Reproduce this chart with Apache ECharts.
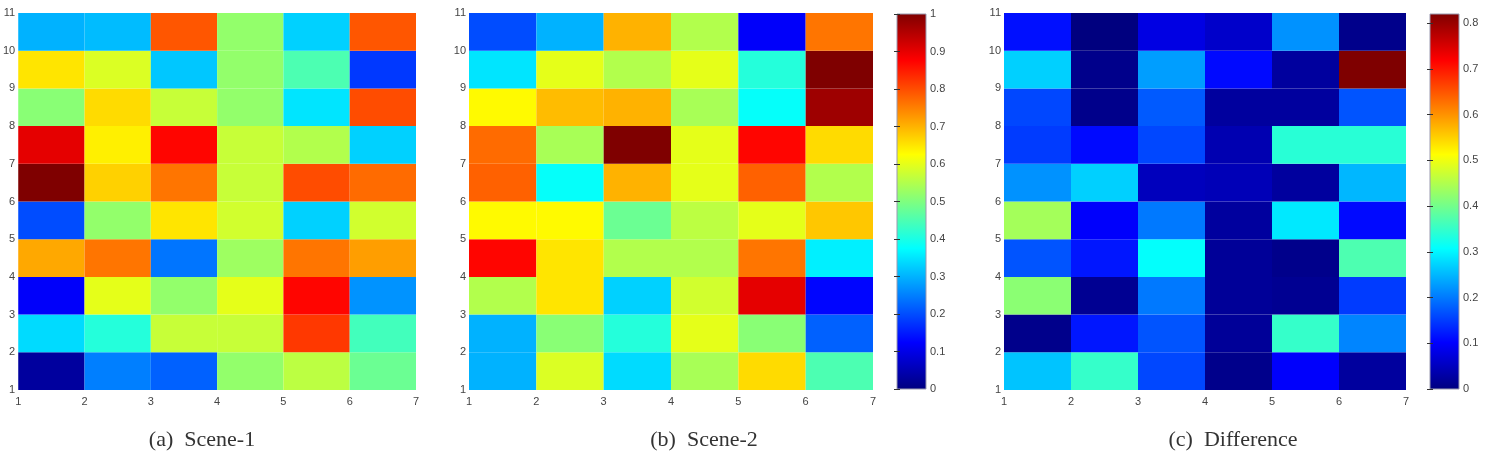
<!DOCTYPE html>
<html>
<head>
<meta charset="utf-8">
<script src="https://cdn.jsdelivr.net/npm/echarts@6/dist/echarts.min.js"></script>
<style>
  html, body { margin: 0; padding: 0; background: #fff; }
  #main { width: 1489px; height: 453px; }
</style>
</head>
<body>
<div id="main"></div>
<script>
// cell values, rows listed bottom (y = 1..2) to top (y = 10..11), six columns each
const sceneA = [
  [0.03, 0.25, 0.22, 0.52, 0.56, 0.48],
  [0.34, 0.41, 0.57, 0.57, 0.82, 0.44],
  [0.12, 0.60, 0.52, 0.60, 0.87, 0.27],
  [0.71, 0.76, 0.24, 0.53, 0.76, 0.72],
  [0.20, 0.52, 0.65, 0.58, 0.33, 0.58],
  [1.00, 0.67, 0.76, 0.57, 0.80, 0.77],
  [0.90, 0.64, 0.87, 0.57, 0.55, 0.33],
  [0.51, 0.66, 0.57, 0.52, 0.35, 0.80],
  [0.65, 0.59, 0.32, 0.52, 0.45, 0.18],
  [0.30, 0.31, 0.79, 0.52, 0.33, 0.79]
];
const sceneB = [
  [0.30, 0.59, 0.34, 0.54, 0.66, 0.45],
  [0.30, 0.51, 0.41, 0.60, 0.51, 0.22],
  [0.55, 0.65, 0.33, 0.58, 0.90, 0.13],
  [0.87, 0.65, 0.55, 0.55, 0.76, 0.36],
  [0.63, 0.63, 0.48, 0.56, 0.60, 0.68],
  [0.78, 0.38, 0.70, 0.60, 0.78, 0.55],
  [0.77, 0.54, 1.00, 0.60, 0.87, 0.66],
  [0.63, 0.69, 0.70, 0.54, 0.38, 0.97],
  [0.35, 0.60, 0.55, 0.60, 0.41, 1.00],
  [0.20, 0.30, 0.70, 0.55, 0.12, 0.76]
];
const difference = [
  [0.26, 0.35, 0.16, 0.01, 0.10, 0.025],
  [0.01, 0.12, 0.17, 0.02, 0.35, 0.21],
  [0.42, 0.015, 0.20, 0.02, 0.015, 0.15],
  [0.17, 0.12, 0.31, 0.02, 0.01, 0.37],
  [0.44, 0.10, 0.20, 0.025, 0.29, 0.11],
  [0.22, 0.27, 0.05, 0.045, 0.025, 0.25],
  [0.15, 0.11, 0.16, 0.04, 0.34, 0.34],
  [0.16, 0.01, 0.175, 0.025, 0.025, 0.17],
  [0.27, 0.01, 0.23, 0.11, 0.025, 0.82],
  [0.115, 0.0, 0.08, 0.06, 0.22, 0.01]
];
const captions = ['(a)  Scene-1', '(b)  Scene-2', '(c)  Difference'];
const colorRangeB = [0, 1];
const colorRangeC = [0, 0.82];
const ticksB = [0, 0.1, 0.2, 0.3, 0.4, 0.5, 0.6, 0.7, 0.8, 0.9, 1];
const ticksC = [0, 0.1, 0.2, 0.3, 0.4, 0.5, 0.6, 0.7, 0.8];

// matlab jet
const jet = ['#00007F', '#0000FF', '#007FFF', '#00FFFF', '#7FFF7F', '#FFFF00', '#FF7F00', '#FF0000', '#7F0000'];

const chart = echarts.init(document.getElementById('main'));

function cells(rows) {
  const out = [];
  rows.forEach((row, j) => row.forEach((v, i) => out.push([i + 1, j + 1, v])));
  return out;
}

function renderCell(params, api) {
  const x = api.value(0), y = api.value(1);
  const p0 = api.coord([x, y + 1]);
  const p1 = api.coord([x + 1, y]);
  return {
    type: 'rect',
    shape: { x: p0[0], y: p0[1], width: p1[0] - p0[0], height: p1[1] - p0[1] },
    style: { fill: api.visual('color') }
  };
}

function renderBar(params, api) {
  const p0 = api.coord([0, api.value(1)]);
  const p1 = api.coord([1, api.value(0)]);
  return {
    type: 'rect',
    shape: { x: p0[0], y: p0[1], width: p1[0] - p0[0], height: p1[1] - p0[1] },
    style: {
      fill: new echarts.graphic.LinearGradient(0, 1, 0, 0,
        jet.map((c, k) => ({ offset: k / (jet.length - 1), color: c }))),
      stroke: '#9a9ab0',
      lineWidth: 1
    }
  };
}

const labelStyle = { color: '#444', fontFamily: 'Liberation Sans, Arial', fontSize: 11 };

const heatGrids = [
  { left: 14, top: 13, width: 402, height: 377 },
  { left: 469, top: 13, width: 404, height: 377 },
  { left: 1004, top: 13, width: 402, height: 377 }
];
const barGrids = [
  { left: 897, top: 14, width: 29, height: 375 },
  { left: 1430, top: 14, width: 29, height: 375 }
];

const xAxis = [], yAxis = [];
heatGrids.forEach((g, i) => {
  xAxis.push({
    type: 'value', gridIndex: i, min: 1, max: 7, interval: 1,
    axisLine: { show: false }, axisTick: { show: false }, splitLine: { show: false },
    axisLabel: Object.assign({ margin: 6 }, labelStyle)
  });
  yAxis.push({
    type: 'value', gridIndex: i, min: 1, max: 11, interval: 1,
    axisLine: { show: false }, axisTick: { show: false }, splitLine: { show: false },
    axisLabel: Object.assign({ margin: 3 }, labelStyle)
  });
});
[[colorRangeB, ticksB], [colorRangeC, ticksC]].forEach(([range, ticks], k) => {
  const gi = 3 + k;
  xAxis.push({ type: 'value', gridIndex: gi, min: 0, max: 1, show: false });
  yAxis.push({
    type: 'value', gridIndex: gi, min: range[0], max: range[1], position: 'right', z: 5,
    axisLine: { show: false }, splitLine: { show: false },
    axisTick: { show: true, inside: true, length: 3, customValues: ticks, lineStyle: { color: '#333' } },
    axisLabel: Object.assign({ margin: 4, customValues: ticks, formatter: v => String(+v.toFixed(2)) }, labelStyle)
  });
  yAxis.push({
    type: 'value', gridIndex: gi, min: range[0], max: range[1], position: 'left', z: 5,
    axisLine: { show: false }, splitLine: { show: false }, axisLabel: { show: false },
    axisTick: { show: true, inside: true, length: 3, customValues: ticks, lineStyle: { color: '#333' } }
  });
});

const option = {
  animation: false,
  backgroundColor: '#fff',
  grid: heatGrids.concat(barGrids),
  xAxis: xAxis,
  yAxis: yAxis,
  visualMap: [
    { show: false, type: 'continuous', seriesIndex: 0, dimension: 2, min: colorRangeB[0], max: colorRangeB[1], inRange: { color: jet } },
    { show: false, type: 'continuous', seriesIndex: 1, dimension: 2, min: colorRangeB[0], max: colorRangeB[1], inRange: { color: jet } },
    { show: false, type: 'continuous', seriesIndex: 2, dimension: 2, min: colorRangeC[0], max: colorRangeC[1], inRange: { color: jet } }
  ],
  series: [
    { type: 'custom', xAxisIndex: 0, yAxisIndex: 0, renderItem: renderCell, data: cells(sceneA) },
    { type: 'custom', xAxisIndex: 1, yAxisIndex: 1, renderItem: renderCell, data: cells(sceneB) },
    { type: 'custom', xAxisIndex: 2, yAxisIndex: 2, renderItem: renderCell, data: cells(difference) },
    { type: 'custom', xAxisIndex: 3, yAxisIndex: 3, z: 1, renderItem: renderBar, data: [colorRangeB] },
    { type: 'custom', xAxisIndex: 4, yAxisIndex: 5, z: 1, renderItem: renderBar, data: [colorRangeC] }
  ],
  title: [
    { text: captions[0], left: 202, top: 429, textAlign: 'center' },
    { text: captions[1], left: 704, top: 429, textAlign: 'center' },
    { text: captions[2], left: 1233, top: 429, textAlign: 'center' }
  ].map(t => Object.assign(t, {
    padding: 0,
    textStyle: { color: '#333', fontFamily: 'Liberation Serif, Times New Roman', fontSize: 22, fontWeight: 'normal' }
  }))
};

chart.setOption(option);
</script>
</body>
</html>
